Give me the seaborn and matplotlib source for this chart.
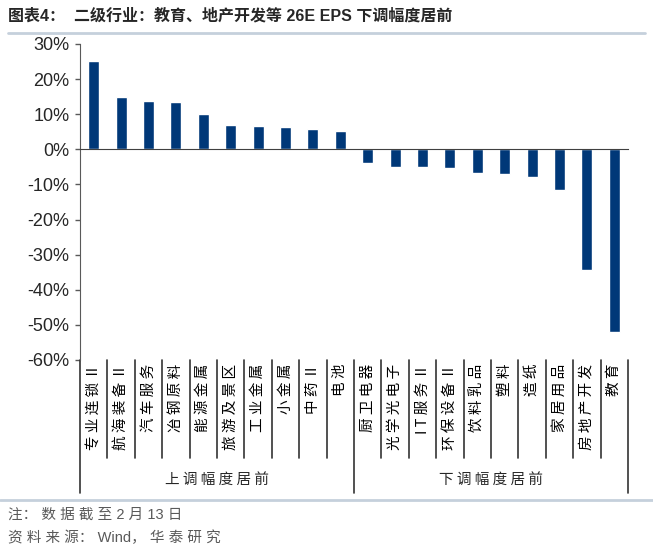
import pandas as pd
import seaborn as sns
from matplotlib import pyplot as plt
from matplotlib.lines import Line2D

# 二级行业 26E EPS 调整幅度 (%)
industries = ["专业连锁Ⅱ", "航海装备Ⅱ", "汽车服务", "冶钢原料", "能源金属",
              "旅游及景区", "工业金属", "小金属", "中药Ⅱ", "电池",
              "厨卫电器", "光学光电子", "IT服务Ⅱ", "环保设备Ⅱ", "饮料乳品",
              "塑料", "造纸", "家居用品", "房地产开发", "教育"]
eps_change = [25.1, 15.0, 13.7, 13.5, 10.2, 6.9, 6.6, 6.3, 5.7, 5.3,
              -3.9, -4.9, -5.0, -5.4, -6.6, -7.1, -7.9, -11.5, -34.5, -52.0]
groups = ["上调幅度居前", "下调幅度居前"]
yticks = [30, 20, 10, 0, -10, -20, -30, -40, -50, -60]

df = pd.DataFrame({"industry": industries, "value": eps_change})

sns.set_style("white")
plt.rcParams["font.family"] = ["Liberation Sans", "Noto Sans CJK SC"]
plt.rcParams["axes.unicode_minus"] = False
cjk = ["Noto Sans CJK SC", "Liberation Sans"]

W, H = 653, 553
fig = plt.figure(figsize=(W / 100, H / 100), dpi=100)
ax = fig.add_axes([80 / W, 1 - 360 / H, (628 - 80) / W, (360 - 44) / H])

sns.barplot(data=df, x="industry", y="value", color="#003878", width=0.4,
            saturation=1, ax=ax)

n = len(industries)
ax.set_xlim(-0.5, n - 0.5)
ax.set_ylim(-60, 30)
ax.set_yticks(yticks)
ax.set_yticklabels([f"{v}%" for v in yticks], fontsize=13)
ax.set_xlabel("")
ax.set_ylabel("")

# x axis sits on the zero line, ticks at category boundaries
for s in ["top", "right"]:
    ax.spines[s].set_visible(False)
ax.spines["bottom"].set_position(("data", 0))
ax.spines["bottom"].set_color("#404040")
ax.spines["left"].set_color("#595959")
ax.set_xticks([i - 0.5 for i in range(n + 1)])
ax.set_xticklabels([])
ax.tick_params(axis="x", direction="out", length=3.5, width=1, color="#404040")
ax.tick_params(axis="y", direction="out", length=3.5, width=1, color="#595959",
               left=True, pad=4)

# category labels below the plot
trans = ax.get_xaxis_transform()
for i, name in enumerate(industries):
    ax.text(i, -0.012, " ".join(name), rotation=90, ha="center", va="top",
            fontsize=10.5, transform=trans, color="black", family=cjk)

# separators
for i in range(n + 1):
    x = i - 0.5
    low = -0.42 if i in (0, 10, 20) else -0.31
    ax.add_line(Line2D([x, x], [0, low], transform=trans, clip_on=False,
                       color="#333333", lw=1.2))

ax.text(4.5, -0.38, " ".join(groups[0]), ha="center", va="center",
        fontsize=10.5, transform=trans, family=cjk)
ax.text(14.5, -0.38, " ".join(groups[1]), ha="center", va="center",
        fontsize=10.5, transform=trans, family=cjk)

# title, header/footer rules, notes
fig.text(8 / W, 1 - 16 / H, "图表4：  二级行业：教育、地产开发等 26E EPS 下调幅度居前",
         fontsize=11.5, fontweight="bold", va="center", ha="left")
fig.add_artist(Line2D([8 / W, 645 / W], [1 - 33 / H, 1 - 33 / H],
                      color="#C5D0DC", lw=2))
fig.add_artist(Line2D([0, 1], [1 - 500 / H, 1 - 500 / H],
                      color="#C5D0DC", lw=2))
fig.text(8 / W, 1 - 515 / H, "注： 数 据 截 至 2 月 13 日", fontsize=10.5,
         color="#595959", va="center")
fig.text(8 / W, 1 - 538 / H, "资 料 来 源： Wind， 华 泰 研 究", fontsize=10.5,
         color="#595959", va="center")

fig.savefig("out.png", dpi=100)
